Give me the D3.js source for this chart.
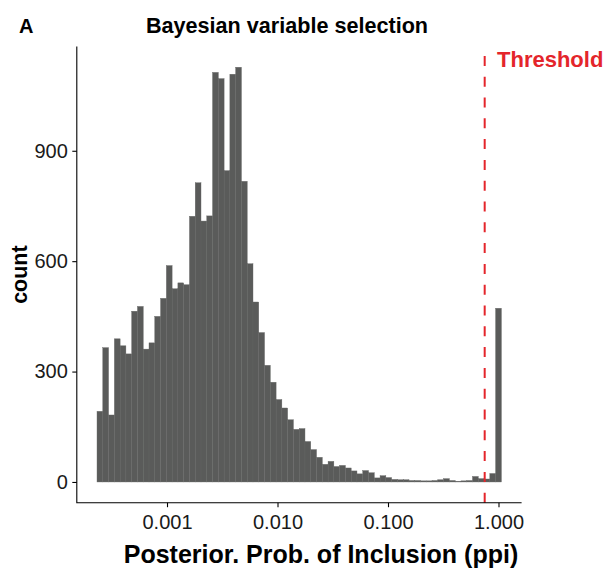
<!DOCTYPE html>
<html>
<head>
<meta charset="utf-8">
<script src="https://cdn.jsdelivr.net/npm/d3@7"></script>
<style>
  body { margin: 0; background: #fff; }
  svg { font-family: "Liberation Sans", Arial, Helvetica, sans-serif; }
</style>
</head>
<body>
<div id="chart"></div>
<script>
/* CONSTANTS AND GLOBALS */
const width = 608;
const height = 569;

// histogram counts, 70 bins on log10(ppi), first centre at ppiMin, last at ppiMax
const counts = [192, 365, 182, 389, 370, 348, 464, 477, 361, 378,
  450, 499, 588, 525, 541, 536, 722, 813, 709, 723,
  1113, 1096, 846, 1108, 1127, 817, 593, 489, 406, 317,
  271, 224, 201, 169, 143, 145, 110, 88, 67, 48,
  56, 42, 45, 38, 30, 22, 31, 25, 11, 17,
  12, 7, 6, 6, 4, 4, 3, 3, 4, 6,
  9, 4, 2, 3, 4, 15, 9, 8, 23, 472];
const ppiMin = 0.000247;
const ppiMax = 1;
const threshold = 0.75;
const xTicks = [0.001, 0.01, 0.1, 1];
const yTicks = [0, 300, 600, 900];

const margin = {left: 76.8, right: 608 - 521.6, top: 46.5, bottom: 569 - 502.7};

/* BINS */
const nBins = counts.length;
const lMin = Math.log10(ppiMin), lMax = Math.log10(ppiMax);
const bw = (lMax - lMin) / (nBins - 1);
const bins = counts.map((c, i) => ({
  x0: Math.pow(10, lMin - bw / 2 + i * bw),
  x1: Math.pow(10, lMin + bw / 2 + i * bw),
  count: c
}));

/* SCALES */
const lo = lMin - bw / 2, hi = lMax + bw / 2;
const ex = 0.05 * (hi - lo);
const xScale = d3.scaleLog()
  .domain([Math.pow(10, lo - ex), Math.pow(10, hi + ex)])
  .range([margin.left, width - margin.right]);

const ymax = d3.max(counts);
const yScale = d3.scaleLinear()
  .domain([-0.05 * ymax, 1.05 * ymax])
  .range([height - margin.bottom, margin.top]);

/* HTML ELEMENTS */
const svg = d3.select("#chart")
  .append("svg")
  .attr("width", width)
  .attr("height", height);

// bars
svg.append("g")
  .selectAll("rect")
  .data(bins)
  .join("rect")
  .attr("x", d => xScale(d.x0))
  .attr("width", d => xScale(d.x1) - xScale(d.x0))
  .attr("y", d => yScale(d.count))
  .attr("height", d => yScale(0) - yScale(d.count))
  .attr("fill", "#5a5b5a")
  .attr("stroke", "#646564")
  .attr("stroke-width", 0.4);

// threshold line, drawn bottom -> top like ggplot
svg.append("line")
  .attr("x1", xScale(threshold))
  .attr("x2", xScale(threshold))
  .attr("y1", height - margin.bottom)
  .attr("y2", margin.top)
  .attr("stroke", "#e4252b")
  .attr("stroke-width", 2)
  .attr("stroke-dasharray", "10,10.8");

// axes (ticks + labels from d3, axis lines drawn separately)
const xAxis = svg.append("g")
  .attr("transform", `translate(0,${height - margin.bottom})`)
  .call(d3.axisBottom(xScale).tickValues(xTicks).tickFormat(d3.format(".3f")).tickSizeOuter(0).tickSize(4.5).tickPadding(8));

const yAxis = svg.append("g")
  .attr("transform", `translate(${margin.left},0)`)
  .call(d3.axisLeft(yScale).tickValues(yTicks).tickSizeOuter(0).tickSize(4.5).tickPadding(4.5));

[xAxis, yAxis].forEach(a => {
  a.select(".domain").remove();
  a.selectAll(".tick line").attr("stroke", "#000").attr("stroke-width", 1.1);
  a.selectAll(".tick text")
    .attr("fill", "#1a1a1a")
    .style("font-size", "20px")
    .style("font-family", "Liberation Sans, Arial, sans-serif");
});

svg.append("path")
  .attr("d", `M${margin.left},${margin.top}V${height - margin.bottom}H${width - margin.right}`)
  .attr("fill", "none")
  .attr("stroke", "#000")
  .attr("stroke-width", 1.1);

// titles
svg.append("text")
  .attr("x", 19)
  .attr("y", 33)
  .attr("font-weight", "bold")
  .attr("font-size", 20)
  .text("A");

svg.append("text")
  .attr("x", 287)
  .attr("y", 33)
  .attr("text-anchor", "middle")
  .attr("font-weight", "bold")
  .attr("font-size", 21.6)
  .text("Bayesian variable selection");

svg.append("text")
  .attr("x", 321)
  .attr("y", 563)
  .attr("text-anchor", "middle")
  .attr("font-weight", "bold")
  .attr("font-size", 25)
  .text("Posterior. Prob. of Inclusion (ppi)");

svg.append("text")
  .attr("transform", `translate(26.5,${(margin.top + height - margin.bottom) / 2}) rotate(-90)`)
  .attr("text-anchor", "middle")
  .attr("font-weight", "bold")
  .attr("font-size", 21.5)
  .text("count");

svg.append("text")
  .attr("x", 497)
  .attr("y", 67)
  .attr("font-weight", "bold")
  .attr("font-size", 22)
  .attr("fill", "#e4252b")
  .text("Threshold");
</script>
</body>
</html>
